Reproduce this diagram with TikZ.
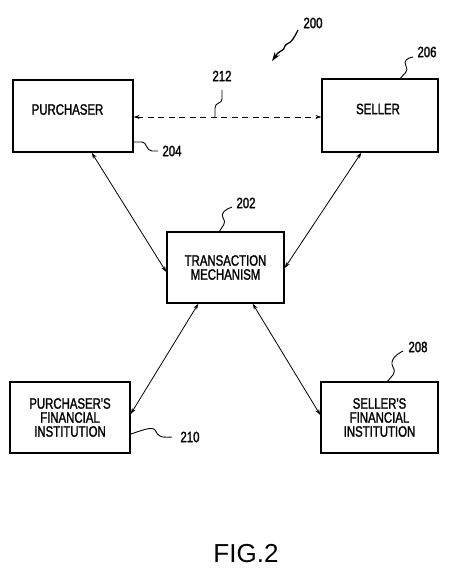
\documentclass[tikz,border=0pt]{standalone}
\usepackage{fontspec}
\usetikzlibrary{arrows.meta}
\newfontfamily\pfont[FakeStretch=0.76,FakeBold=1.5]{Liberation Sans}
\newfontfamily\figfont{Liberation Sans}
\begin{document}
\begin{tikzpicture}[x=1pt,y=-1pt,
  box/.style={draw,line width=1.4pt,inner sep=0pt},
  lbl/.style={font=\pfont\fontsize{15}{14}\selectfont,align=center,inner sep=0pt},
  num/.style={font=\pfont\fontsize{15}{15}\selectfont,inner sep=0pt},
  conn/.style={line width=0.8pt,{Stealth[length=6pt,width=4pt]}-{Stealth[length=6pt,width=4pt]}},
  lead/.style={line width=0.9pt}]
\useasboundingbox (0,0) rectangle (449,586);
% boxes
\node[box,minimum width=120pt,minimum height=72pt] (pur) at (73,116) {};
\node[lbl] (purt) at (67.5,109.5) {PURCHASER};
\node[box,minimum width=116pt,minimum height=73pt] (sel) at (380,115.5) {};
\node[lbl] (selt) at (378,109) {SELLER};
\node[box,minimum width=117pt,minimum height=71pt,lbl] (tm) at (225.5,267.5) {TRANSACTION\\MECHANISM};
\node[box,minimum width=120pt,minimum height=71pt,lbl] (pfi) at (70,417.5) {PURCHASER'S\\FINANCIAL\\INSTITUTION};
\node[box,minimum width=117pt,minimum height=71pt,lbl] (sfi) at (379.5,417.5) {SELLER'S\\FINANCIAL\\INSTITUTION};
% connectors
\draw[conn] (pur.south east) ++(-42,0) coordinate (a1) (a1) -- (tm.west |- 0,272) coordinate (a2);
\draw[conn] (sel.south west) ++(40,0) coordinate (b1) (b1) -- (tm.east |- 0,268) coordinate (b2);
\draw[conn] (tm.south west) ++(32,0) coordinate (c1) (c1) -- (pfi.east |- 0,414) coordinate (c2);
\draw[conn] (tm.south east) ++(-32,0) coordinate (d1) (d1) -- (sfi.west |- 0,415) coordinate (d2);
\draw[conn,dashed,dash pattern=on 6pt off 4.5pt] (pur.east |- 0,117) coordinate (e1) (e1) -- (sel.west |- 0,117) coordinate (e2);
% reference numerals
\node[num] (n200) at (313,23) {200};
\node[num] (n206) at (427,52) {206};
\node[num] (n212) at (222,76) {212};
\node[num] (n204) at (172,151) {204};
\node[num] (n202) at (246,203) {202};
\node[num] (n208) at (418,347) {208};
\node[num] (n210) at (190,437) {210};
% leaders
\coordinate (l200a) at (298,30);
\coordinate (l200b) at (272,61);
\draw[line width=1.3pt,-{Stealth[length=9pt,width=6pt]}] (l200a) .. controls (294,38) and (292,42) .. (287,44) .. controls (283,46) and (286,49) .. (281,51) .. controls (278,52) and (277,54) .. (l200b);
\coordinate (l206a) at (400,79);
\coordinate (l206b) at (413,57);
\draw[lead] (l206a) .. controls (404,73) and (409,72) .. (406,66) .. controls (403,61) and (407,58) .. (l206b);
\coordinate (l212a) at (215,117);
\coordinate (l212b) at (222,90);
\draw[lead] (l212a) -- (215,108) .. controls (215,102) and (222,104) .. (222,99) -- (l212b);
\coordinate (l204a) at (134,142);
\coordinate (l204b) at (158,151);
\draw[lead] (l204a) -- (142,142) .. controls (147,142) and (146,151) .. (152,151) -- (l204b);
\coordinate (l202a) at (219,232);
\coordinate (l202b) at (232,207);
\draw[lead] (l202a) .. controls (222,226) and (227,224) .. (223,218) .. controls (220,213) and (226,209) .. (l202b);
\coordinate (l208a) at (387,382);
\coordinate (l208b) at (403,351);
\draw[lead] (l208a) .. controls (391,376) and (397,374) .. (393,367) .. controls (389,360) and (397,354) .. (l208b);
\coordinate (l210a) at (131,434);
\coordinate (l210b) at (172,437);
\draw[lead] (l210a) .. controls (140,431) and (152,426) .. (155,430) .. controls (158,436) and (160,438) .. (l210b);
% caption
\node[font=\figfont\fontsize{26}{26}\selectfont,inner sep=0pt] (fig) at (246,554) {FIG.2};
\end{tikzpicture}
\end{document}
